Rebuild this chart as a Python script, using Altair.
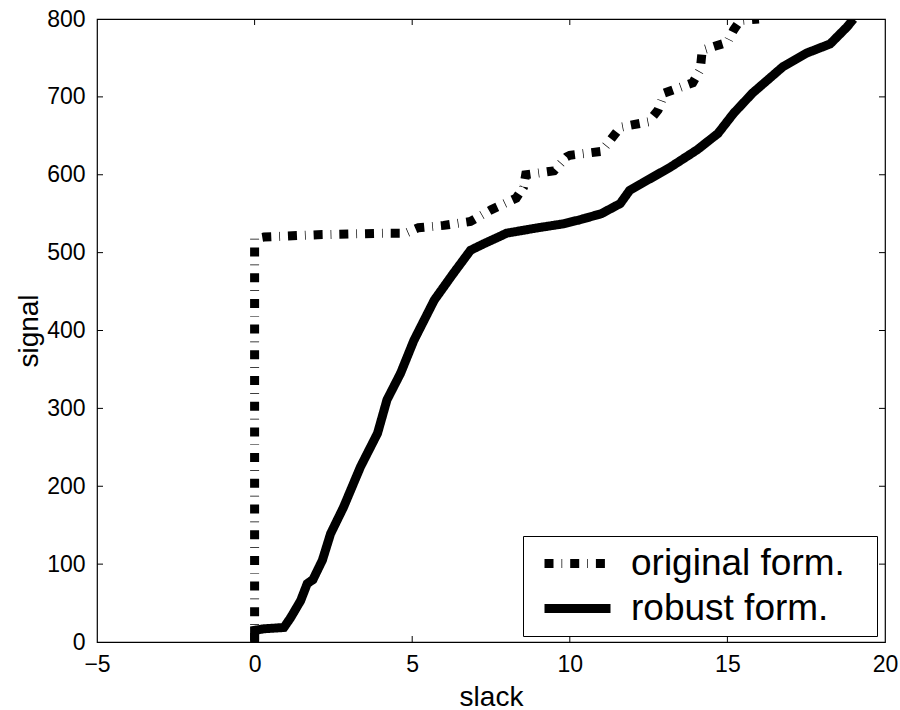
import altair as alt
import pandas as pd

# ---- data ----
orig_x = [0, 0, 0.3, 2.0, 4.2, 4.8, 5.2, 6.0, 6.85, 7.5, 8.3, 8.53, 8.6, 9.5, 9.9, 10.0,
          11.0, 11.2, 11.6, 12.5, 12.8, 13.0, 13.9, 14.14, 14.2, 15.0, 15.2, 15.4, 16.0]
orig_y = [0, 518, 520, 523, 525, 525, 532, 535, 540, 555, 570, 584, 600, 605, 623, 625,
          630, 640, 661, 668, 683, 705, 718, 735, 760, 770, 786, 798, 800]

rob_x = [0, 0, 0.3, 0.93, 1.14, 1.46, 1.67, 1.85, 2.15, 2.41, 2.82, 3.36, 3.9, 4.2, 4.63,
         5.05, 5.7, 6.3, 6.85, 7.2, 8.0, 9.0, 9.8, 10.3, 11.0, 11.6, 11.9, 13.2, 14.04,
         14.7, 15.2, 15.8, 16.77, 17.5, 18.26, 18.8, 19.0]
rob_y = [2, 15, 17, 18.6, 31, 53, 75, 80, 105, 139, 173, 225, 268, 311, 345,
         387, 439, 473, 503, 510, 525, 532, 537, 542, 550, 563, 580, 610, 632,
         653, 679, 705, 739, 756, 768, 790, 800]

series_names = ["original form.", "robust form."]
x_ticks = [-5, 0, 5, 10, 15, 20]
y_ticks = [0, 100, 200, 300, 400, 500, 600, 700, 800]
x_inner = [0, 5, 10, 15]
y_inner = [100, 200, 300, 400, 500, 600, 700]

W, H = 788, 623
FONT = "Liberation Sans"

df = pd.concat([
    pd.DataFrame({"slack": orig_x, "signal": orig_y, "series": series_names[0], "order": range(len(orig_x))}),
    pd.DataFrame({"slack": rob_x, "signal": rob_y, "series": series_names[1], "order": range(len(rob_x))}),
])

xscale = alt.Scale(domain=[-5, 20], nice=False, zero=False)
yscale = alt.Scale(domain=[0, 800], nice=False, zero=False)

# legend symbol: a horizontal stroke (plus an empty point that widens the legend box)
SYM = "M-0.5,0L5.0,0M24.9,0L24.9,0"

lines = alt.Chart(df).mark_line(strokeWidth=9, color="black", clip=True).encode(
    x=alt.X("slack:Q", scale=xscale,
            axis=alt.Axis(values=x_ticks, title="slack", tickSize=0, labelPadding=11,
                          labelFlush=False, domain=False, grid=False,
                          titleY=63, titleBaseline="alphabetic")),
    y=alt.Y("signal:Q", scale=yscale,
            axis=alt.Axis(values=y_ticks, title="signal", tickSize=0, labelPadding=12,
                          labelFlush=False, domain=False, grid=False,
                          titleX=-60, titleBaseline="alphabetic")),
    order="order:Q",
    strokeDash=alt.StrokeDash(
        "series:N",
        scale=alt.Scale(domain=series_names, range=[[9, 8, 0.7, 8], [1, 0]]),
        legend=alt.Legend(
            title=None, orient="none", legendX=426, legendY=517,
            symbolType=SYM, symbolSize=576, symbolStrokeWidth=9,
            symbolStrokeColor="black", symbolFillColor="transparent",
            labelFontSize=37, labelFont=FONT,
            labelColor="black", labelLimit=400, labelOffset=62,
            padding=9, rowPadding=7, strokeColor="black", fillColor="white",
            cornerRadius=0,
        ),
    ),
)

xt = pd.DataFrame({"t": x_inner})
yt = pd.DataFrame({"t": y_inner})

tick_bottom = alt.Chart(xt).mark_rule(color="black", strokeWidth=1).encode(
    x=alt.X("t:Q", scale=xscale), y=alt.value(H), y2=alt.value(H - 6))
tick_top = alt.Chart(xt).mark_rule(color="black", strokeWidth=1).encode(
    x=alt.X("t:Q", scale=xscale), y=alt.value(0), y2=alt.value(6))
tick_left = alt.Chart(yt).mark_rule(color="black", strokeWidth=1).encode(
    y=alt.Y("t:Q", scale=yscale), x=alt.value(0), x2=alt.value(6))
tick_right = alt.Chart(yt).mark_rule(color="black", strokeWidth=1).encode(
    y=alt.Y("t:Q", scale=yscale), x=alt.value(W), x2=alt.value(W - 6))

chart = alt.layer(tick_bottom, tick_top, tick_left, tick_right, lines).properties(
    width=W, height=H,
    autosize=alt.AutoSizeParams(type="none"),
    padding={"left": 97, "top": 19, "right": 15, "bottom": 68},
).configure(background="white").configure_view(
    stroke="black", strokeWidth=1.2
).configure_axis(
    labelFont=FONT, labelFontSize=23, labelColor="black",
    titleFont=FONT, titleFontSize=28, titleColor="black", titleFontWeight="normal",
)

chart.save("out.html", embed_options={"renderer": "svg", "actions": False})
